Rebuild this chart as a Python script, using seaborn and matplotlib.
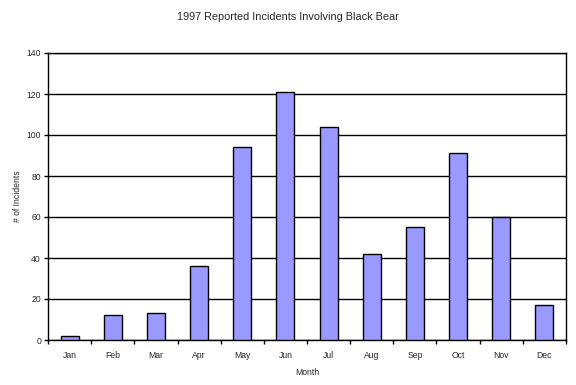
import matplotlib
matplotlib.use("Agg")
import matplotlib.pyplot as plt
import seaborn as sns
import pandas as pd
import numpy as np

months = ["Jan", "Feb", "Mar", "Apr", "May", "Jun", "Jul", "Aug", "Sep", "Oct", "Nov", "Dec"]
incidents = [2, 12, 13, 36, 94, 121, 104, 42, 55, 91, 60, 17]
y_ticks = [0, 20, 40, 60, 80, 100, 120, 140]

sns.set_theme(style="white")
plt.rcParams['font.family'] = ['Liberation Sans', 'DejaVu Sans']

df = pd.DataFrame({"Month": months, "Incidents": incidents})

fig = plt.figure(figsize=(5.76, 3.85), dpi=100)
ax = fig.add_axes([48/576, 1 - 340/385, (566-48)/576, (340-53)/385])

sns.barplot(data=df, x="Month", y="Incidents", color="#9999FF", saturation=1,
            width=0.42, edgecolor="black", linewidth=1.0, ax=ax, zorder=3)

ax.set_ylim(0, 140)
ax.set_xlim(-0.5, 11.5)
ax.set_yticks(y_ticks)
ax.set_yticklabels([str(v) for v in y_ticks], fontsize=6.2)
ax.yaxis.grid(True, color="black", linewidth=1.0, zorder=0)
ax.set_axisbelow(True)

ax.set_xticks(range(len(months)))
ax.set_xticklabels(months, fontsize=6.2)
ax.tick_params(axis="x", length=0, pad=8)
ax.set_xticks(np.arange(-0.5, 12, 1), minor=True)
ax.tick_params(axis="x", which="minor", length=3, width=1, color="black", direction="out", bottom=True)
ax.tick_params(axis="y", length=3, width=1, color="black", direction="out", left=True, pad=2)

for s in ax.spines.values():
    s.set_visible(True)
    s.set_color("black")
    s.set_linewidth(1.0)

ax.set_xlabel("Month", fontsize=6.2, labelpad=6)
ax.set_ylabel("# of Incidents", fontsize=6.2, labelpad=3)
fig.text(288/576, 1 - 17/385, "1997 Reported Incidents Involving Black Bear",
         ha="center", va="center", fontsize=7.8)

fig.savefig("out.png", dpi=100, facecolor="white")
